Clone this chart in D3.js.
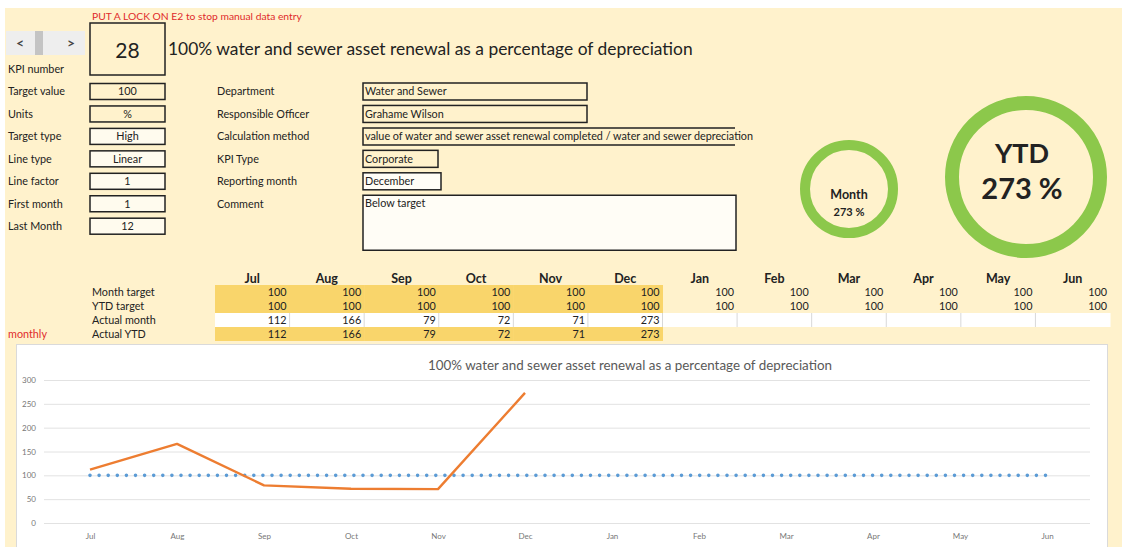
<!DOCTYPE html>
<html><head><meta charset="utf-8">
<script src="https://cdn.jsdelivr.net/npm/d3@7"></script>
<style>
body{margin:0;background:#fff;}
svg{display:block;font-family:Lato,"Open Sans",sans-serif;}
</style>
</head><body>
<svg id="c" width="1122" height="547"></svg>
<script>
// ---------- data ----------
const months = ["Jul","Aug","Sep","Oct","Nov","Dec","Jan","Feb","Mar","Apr","May","Jun"];
const monthTarget = [100,100,100,100,100,100,100,100,100,100,100,100];
const ytdTarget   = [100,100,100,100,100,100,100,100,100,100,100,100];
const actualMonth = [112,166,79,72,71,273];
const actualYTD   = [112,166,79,72,71,273];
const yTicks = [0,50,100,150,200,250,300];
const kpiNumber = "28";
const kpiTitle = "100% water and sewer asset renewal as a percentage of depreciation";
const lockNote = "PUT A LOCK ON E2 to stop manual data entry";
const leftLabels = ["Target value","Units","Target type","Line type","Line factor","First month","Last Month"];
const leftValues = ["100","%","High","Linear","1","1","12"];
const midLabels = ["Department","Responsible Officer","Calculation method","KPI Type","Reporting month","Comment"];
const midValues = ["Water and Sewer","Grahame Wilson","value of water and sewer asset renewal completed / water and sewer depreciation","Corporate","December","Below target"];
const rowLabels = ["Month target","YTD target","Actual month","Actual YTD"];
const monthPct = 273;
const ytdPct = 273;

// ---------- drawing ----------
const svg = d3.select("#c");
const CREAM = "#FFF2CC", GOLD = "#F9D56B", DARK = "#222";
const FS = 10.8;

svg.append("rect").attr("x",5).attr("y",8).attr("width",1117).attr("height",539).attr("fill",CREAM);

// lock note
svg.append("text").attr("x",92).attr("y",20).attr("font-size",10.3).attr("fill","#E02B2B").text(lockNote);

// nav control
svg.append("rect").attr("x",6).attr("y",31).attr("width",79).attr("height",24).attr("fill","#EEEEEE");
svg.append("rect").attr("x",35).attr("y",31).attr("width",8).attr("height",24).attr("fill","#C4C4C4");
svg.append("text").attr("x",20).attr("y",48).attr("font-size",14).attr("font-weight","bold").attr("fill","#444").attr("text-anchor","middle").text("<");
svg.append("text").attr("x",71).attr("y",48).attr("font-size",14).attr("font-weight","bold").attr("fill","#444").attr("text-anchor","middle").text(">");

// KPI box
svg.append("rect").attr("x",90).attr("y",23).attr("width",75).attr("height",52).attr("fill",CREAM).attr("stroke",DARK).attr("stroke-width",1.5);
svg.append("text").attr("x",127.5).attr("y",58).attr("font-size",21).attr("text-anchor","middle").attr("fill",DARK).text(kpiNumber);
svg.append("text").attr("x",168).attr("y",55).attr("font-size",17.4).attr("fill",DARK).text(kpiTitle);
svg.append("text").attr("x",8).attr("y",73).attr("font-size",FS).attr("fill",DARK).text("KPI number");

// left fields
const rowY = i => 91.5 + i*22.45;
const leftFill = [CREAM,CREAM,"#FFFBEE","#FFFBEE","#FFFBEE","#FFFBEE","#FFFBEE"];
leftLabels.forEach((l,i)=>{
  svg.append("text").attr("x",8).attr("y",rowY(i)+3.8).attr("font-size",FS).attr("fill",DARK).text(l);
  svg.append("rect").attr("x",90).attr("y",rowY(i)-8).attr("width",75).attr("height",16)
     .attr("fill",leftFill[i]).attr("stroke",DARK).attr("stroke-width",1.5);
  svg.append("text").attr("x",127.5).attr("y",rowY(i)+3.8).attr("font-size",FS).attr("text-anchor","middle").attr("fill",DARK).text(leftValues[i]);
});

// middle fields
const midW = [224,224,372,75,78,373];
const midFill = [CREAM,CREAM,CREAM,CREAM,"#FFFDF6","#FFFDF6"];
midLabels.forEach((l,i)=>{
  svg.append("text").attr("x",217).attr("y",rowY(i)+3.8).attr("font-size",FS).attr("fill",DARK).text(l);
  const h = i===5 ? 55 : 17;
  const top = rowY(i)-8.5;
  if(i===2){
    svg.append("rect").attr("x",363).attr("y",top).attr("width",midW[i]).attr("height",h).attr("fill",midFill[i]);
    svg.append("path").attr("d",`M${363+midW[i]},${top}H363V${top+h}H${363+midW[i]}`).attr("fill","none").attr("stroke",DARK).attr("stroke-width",1.5);
  } else {
    svg.append("rect").attr("x",363).attr("y",top).attr("width",midW[i]).attr("height",h)
       .attr("fill",midFill[i]).attr("stroke",DARK).attr("stroke-width",1.5);
  }
  svg.append("text").attr("x",365).attr("y",i===5 ? top+12 : rowY(i)+3.8).attr("font-size",FS).attr("fill",DARK).text(midValues[i]);
});

// rings
const GREEN = "#8CC84B";
svg.append("circle").attr("cx",849).attr("cy",189).attr("r",44).attr("fill","none").attr("stroke",GREEN).attr("stroke-width",10);
svg.append("text").attr("x",849).attr("y",199).attr("font-size",12.5).attr("font-weight","bold").attr("text-anchor","middle").attr("fill",DARK).text("Month");
svg.append("text").attr("x",849).attr("y",216).attr("font-size",11).attr("font-weight","bold").attr("text-anchor","middle").attr("fill",DARK).text(monthPct+" %");
svg.append("circle").attr("cx",1026).attr("cy",177).attr("r",74).attr("fill","none").attr("stroke",GREEN).attr("stroke-width",14);
svg.append("text").attr("x",1022).attr("y",163).attr("font-size",27).attr("font-weight","bold").attr("text-anchor","middle").attr("fill",DARK).text("YTD");
svg.append("text").attr("x",1022).attr("y",199).attr("font-size",29).attr("font-weight","bold").attr("text-anchor","middle").attr("fill",DARK).text(ytdPct+" %");

// ---------- table ----------
const col = d3.scaleBand().domain(months).range([215,1110]);
const tRowTop = i => 285 + i*14;
svg.selectAll(".mh").data(months).join("text")
  .attr("x",d=>col(d)+col.bandwidth()/2).attr("y",283).attr("font-size",12.5).attr("font-weight","bold")
  .attr("text-anchor","middle").attr("fill",DARK).text(d=>d);

const tableRows = [monthTarget, ytdTarget, actualMonth, actualYTD];
rowLabels.forEach((l,i)=>{
  svg.append("text").attr("x",92).attr("y",tRowTop(i)+10.8).attr("font-size",FS).attr("fill",DARK).text(l);
});
svg.append("text").attr("x",8).attr("y",tRowTop(3)+10.8).attr("font-size",FS).attr("fill","#E02B2B").text("monthly");

tableRows.forEach((vals,i)=>{
  months.forEach((m,j)=>{
    let fill = null;
    if(i===2) fill = "#FFFFFF";
    else if(j < actualMonth.length) fill = GOLD;
    if(fill) svg.append("rect").attr("x",col(m)).attr("y",tRowTop(i)).attr("width",col.bandwidth()+0.5).attr("height",14).attr("fill",fill);
    if(i===2 && j>0) svg.append("line").attr("x1",col(m)).attr("x2",col(m)).attr("y1",tRowTop(i)).attr("y2",tRowTop(i)+14).attr("stroke","#D8D8D8").attr("stroke-width",1);
  });
});
tableRows.forEach((vals,i)=>{
  vals.forEach((v,j)=>{
    svg.append("text").attr("x",col(months[j])+col.bandwidth()-3).attr("y",tRowTop(i)+10.8)
      .attr("font-size",FS).attr("text-anchor","end").attr("fill",DARK).text(v);
  });
});

// ---------- chart ----------
svg.append("rect").attr("x",16.5).attr("y",344.5).attr("width",1091).attr("height",210).attr("fill","#fff").attr("stroke","#DADADA");
svg.append("text").attr("x",630).attr("y",370).attr("font-size",13.4).attr("text-anchor","middle").attr("fill","#595959").text(kpiTitle);

const x = d3.scalePoint().domain(months).range([90,1047]);
const y = d3.scaleLinear().domain([0,300]).range([523,380]);

const ga = svg.append("g").attr("transform","translate(44,0)")
  .call(d3.axisLeft(y).tickValues(yTicks).tickSize(-(1090-44)).tickPadding(8));
ga.select(".domain").remove();
ga.selectAll("line").attr("stroke","#E2E2E2");
ga.selectAll("text").attr("font-size",8).attr("fill","#777").attr("font-family","Lato,'Open Sans',sans-serif");

const gx = svg.append("g").attr("transform","translate(0,527)")
  .call(d3.axisBottom(x).tickSize(0).tickPadding(6));
gx.select(".domain").remove();
gx.selectAll("text").attr("font-size",8).attr("fill","#777").attr("font-family","Lato,'Open Sans',sans-serif");

const line = d3.line().x((d,i)=>x(months[i])).y(d=>y(d));
svg.append("path").datum(monthTarget).attr("d",line).attr("fill","none")
  .attr("stroke","#5B9BD5").attr("stroke-width",3.6).attr("stroke-linecap","round").attr("stroke-dasharray","0 9.1");
svg.append("path").datum(actualMonth).attr("d",line).attr("fill","none")
  .attr("stroke","#ED7D31").attr("stroke-width",2.4).attr("stroke-linejoin","round");
</script>
</body></html>
